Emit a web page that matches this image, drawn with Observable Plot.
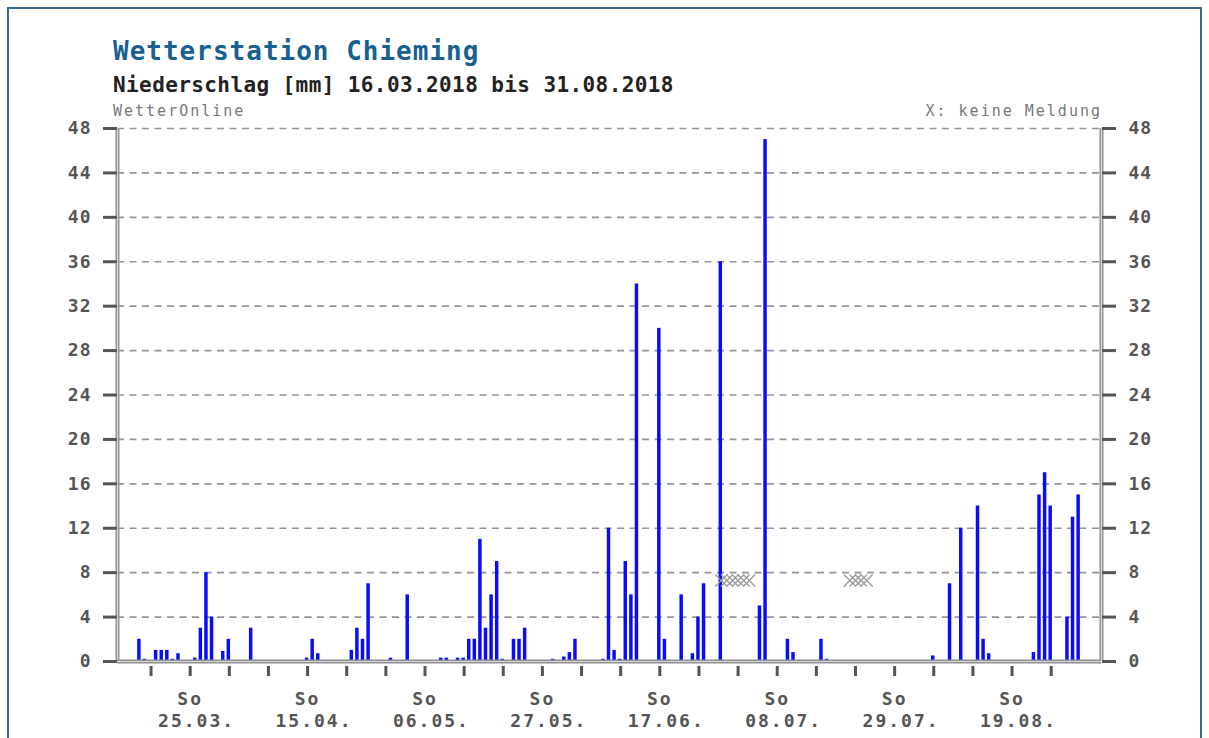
<!DOCTYPE html>
<html>
<head>
<meta charset="utf-8">
<script src="https://cdn.jsdelivr.net/npm/d3@7"></script>
<script src="https://cdn.jsdelivr.net/npm/@observablehq/plot@0.6"></script>
<style>
  html, body { margin: 0; padding: 0; background: #fff; width: 1209px; height: 738px; overflow: hidden; position: relative; }
  .frame { position: absolute; left: 7px; top: 7px; width: 1191px; height: 800px; border: 2px solid #3d6b8c; }
  .hdr { position: absolute; white-space: nowrap; line-height: 1; font-family: "DejaVu Sans Mono", monospace; }
  #title { left: 113px; top: 38px; font-size: 26px; font-weight: bold; color: #17608f; letter-spacing: 1px; }
  #subtitle { left: 113px; top: 75px; font-size: 21px; font-weight: bold; color: #222; letter-spacing: 0.4px; }
  #source { left: 113px; top: 104px; font-size: 15px; color: #777; letter-spacing: 2px; }
  #note { right: 107px; top: 104px; font-size: 15px; color: #777; letter-spacing: 2px; }
  #chart { position: absolute; left: 0; top: 100px; }
  #chart svg { overflow: visible; }
  [aria-label="x-axis tick label"] text { letter-spacing: 2px; }
  [aria-label="y-axis tick label"] text { letter-spacing: 1px; }
</style>
</head>
<body>
<div class="frame"></div>
<div class="hdr" id="title">Wetterstation Chieming</div>
<div class="hdr" id="subtitle">Niederschlag [mm] 16.03.2018 bis 31.08.2018</div>
<div class="hdr" id="source">WetterOnline</div>
<div class="hdr" id="note">X: keine Meldung</div>
<div id="chart"></div>
<script>
// ---- data (daily precipitation, mm; days not listed = 0) ----
const rainDates = [
  "2018-03-16","2018-03-17","2018-03-19","2018-03-20","2018-03-21","2018-03-22","2018-03-23",
  "2018-03-26","2018-03-27","2018-03-28","2018-03-29","2018-03-31","2018-04-01","2018-04-05",
  "2018-04-15","2018-04-16","2018-04-17","2018-04-23","2018-04-24","2018-04-25","2018-04-26",
  "2018-04-30","2018-05-03","2018-05-09","2018-05-10","2018-05-12","2018-05-13","2018-05-14",
  "2018-05-15","2018-05-16","2018-05-17","2018-05-18","2018-05-19","2018-05-20","2018-05-22",
  "2018-05-23","2018-05-24","2018-05-29","2018-05-31","2018-06-01","2018-06-02","2018-06-07",
  "2018-06-08","2018-06-09","2018-06-10","2018-06-11","2018-06-12","2018-06-13","2018-06-17",
  "2018-06-18","2018-06-21","2018-06-23","2018-06-24","2018-06-25","2018-06-28","2018-07-05",
  "2018-07-06","2018-07-10","2018-07-11","2018-07-16","2018-07-17","2018-08-05","2018-08-08",
  "2018-08-10","2018-08-13","2018-08-14","2018-08-15","2018-08-23","2018-08-24","2018-08-25",
  "2018-08-26","2018-08-29","2018-08-30","2018-08-31"
];
const rainMM = [
  2, 0.2, 1, 1, 1, 0.2, 0.7,
  0.3, 3, 8, 4, 0.9, 2, 3,
  0.3, 2, 0.7, 1, 3, 2, 7,
  0.3, 6, 0.3, 0.3, 0.3, 0.3, 2,
  2, 11, 3, 6, 9, 0.2, 2,
  2, 3, 0.2, 0.4, 0.8, 2, 0.2,
  12, 1, 0.2, 9, 6, 34, 30,
  2, 6, 0.7, 4, 7, 36, 5,
  47, 2, 0.8, 2, 0.2, 0.5, 7,
  12, 14, 2, 0.7, 0.8, 15, 17,
  14, 4, 13, 15
];
// days without report ("X: keine Meldung")
const noReportDates = [
  "2018-06-28","2018-06-29","2018-06-30","2018-07-01","2018-07-02","2018-07-03",
  "2018-07-21","2018-07-22","2018-07-23","2018-07-24"
];
// x axis: Sundays (tick marks) and labelled Sundays
const sundayTicks = [
  "2018-03-18","2018-03-25","2018-04-01","2018-04-08","2018-04-15","2018-04-22","2018-04-29",
  "2018-05-06","2018-05-13","2018-05-20","2018-05-27","2018-06-03","2018-06-10","2018-06-17",
  "2018-06-24","2018-07-01","2018-07-08","2018-07-15","2018-07-22","2018-07-29","2018-08-05",
  "2018-08-12","2018-08-19","2018-08-26"
];
const labeledSundays = ["2018-03-25","2018-04-15","2018-05-06","2018-05-27","2018-06-17","2018-07-08","2018-07-29","2018-08-19"];
const xTickDays = ["So","So","So","So","So","So","So","So"];
const xTickDates = ["25.03.","15.04.","06.05.","27.05.","17.06.","08.07.","29.07.","19.08."];
// y axis ticks
const yTicks = [0, 4, 8, 12, 16, 20, 24, 28, 32, 36, 40, 44, 48];
const xDomain = ["2018-03-12", "2018-09-04"];
const noReportLevel = 7.3;

// ---- build ----
const DAY = 86400000;
const parse = s => new Date(s + "T00:00:00Z");
const rows = rainDates.map((d, i) => ({date: parse(d), mm: rainMM[i]}));
// second line nudged right (nbsp) like the original, which centres the digits
const labelMap = new Map(labeledSundays.map((d, i) => [+parse(d), xTickDays[i] + "\n\u00a0" + xTickDates[i]]));
const xStart = parse(xDomain[0]), xEnd = parse(xDomain[1]);

const chart = Plot.plot({
  width: 1209,
  height: 638,
  marginLeft: 117,
  marginRight: 108,
  marginTop: 28,
  marginBottom: 77,
  x: {type: "utc", domain: [xStart, xEnd]},
  y: {domain: [0, 48]},
  style: {
    fontFamily: "'DejaVu Sans Mono', monospace",
    fontSize: "18px",
    fontWeight: "bold",
    background: "transparent",
    color: "#555"
  },
  marks: [
    Plot.gridY(yTicks.filter(v => v > 0), {
      stroke: "#959595", strokeOpacity: 1, strokeWidth: 1.6, strokeDasharray: "7,5.5"
    }),
    Plot.rectY(rows, {
      x1: d => new Date(+d.date - 0.4 * DAY),
      x2: d => new Date(+d.date + 0.22 * DAY),
      y: "mm",
      fill: "#0a0aff",
      inset: 0
    }),
    Plot.dot(noReportDates, {
      x: d => parse(d),
      y: () => noReportLevel,
      symbol: "times",
      r: 5.5,
      stroke: "#9a9a9a",
      strokeWidth: 1.3
    }),
    // frame lines (double grey look)
    Plot.ruleX([xStart, xEnd], {stroke: "#8f8f8f", strokeWidth: 4}),
    Plot.ruleX([xStart, xEnd], {stroke: "#d8d8d8", strokeWidth: 1.2}),
    Plot.ruleY([0], {stroke: "#8f8f8f", strokeWidth: 4}),
    Plot.ruleY([0], {stroke: "#d8d8d8", strokeWidth: 1.2}),
    Plot.axisY({
      anchor: "left", ticks: yTicks, tickSize: 14, tickPadding: 12,
      strokeWidth: 3, color: "#555", label: null, tickFormat: d => String(d)
    }),
    Plot.axisY({
      anchor: "right", ticks: yTicks, tickSize: 14, tickPadding: 13,
      strokeWidth: 3, color: "#555", label: null, tickFormat: d => String(d)
    }),
    Plot.axisX({
      ticks: sundayTicks.map(parse), tickSize: 10, dy: 5, tickPadding: 12,
      strokeWidth: 3, color: "#555", label: null, lineHeight: 1.26,
      tickFormat: d => labelMap.get(+d) || ""
    })
  ]
});
document.getElementById("chart").appendChild(chart);
</script>
</body>
</html>
